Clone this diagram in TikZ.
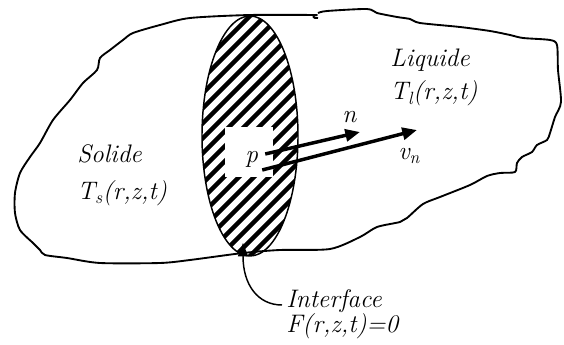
\documentclass[tikz,border=0pt]{standalone}
\usepackage{fontspec}
\usetikzlibrary{arrows.meta,shapes.geometric}

\begin{document}
\begin{tikzpicture}[x=0.75pt, y=-0.75pt,
  lbl/.style={font=\fontsize{19}{23}\selectfont\itshape, anchor=base west, inner sep=0pt},
  outline/.style={line width=1.4pt, line join=round},
  stripe/.style={line width=3.4pt},
  front/.style={ellipse, draw, line width=1.1pt, inner sep=0pt,
                minimum width=72pt, minimum height=180pt,
                path picture={\foreach \k in {-13,...,13}
                  \draw[stripe] ([shift={(15*\k-150,150)}]path picture bounding box.center) -- ++(300,-300);}},
  vec/.style={line width=2.6pt, -{Triangle[length=11pt, width=9pt]}},
  pointer/.style={line width=1.1pt, -{Triangle[length=10pt, width=7.5pt]}}
]
  \useasboundingbox (0,0) rectangle (564,345);
  \draw[outline] plot[smooth, tension=0.45] coordinates {
    (318,13) (327,11) (367,9) (377,13) (397,17) (410,19) (420,23) (460,27)
    (490,31) (510,35) (523,38) (550,40) (557,45) (558,70) (561,102) (555,117)
    (550,133) (547,140) (537,145) (532,152) (522,157) (517,163) (515,172)
    (500,173) (487,176) (470,185) (440,197) (423,204) (407,218) (400,222)
    (377,227) (360,237) (330,249) (280,250) (243,253) (190,260) (160,263)
    (100,263) (67,258) (45,255) (40,250) (33,243) (20,230) (15,213) (15,193)
    (20,173) (30,157) (40,143) (53,120) (70,100) (83,83) (97,70) (100,58)
    (110,50) (123,40) (133,33) (160,25) (190,18) (250,15) (317,15)}
    .. controls (312,15) and (312,19) .. (318,18);
  \node[front] (ifs) at (250,136) {};
  \node[fill=white, minimum width=36pt, minimum height=37pt, inner sep=0pt] (pbox) at (249,152) {};
  \node[lbl] (p) at (245,163) {p};
  \node[lbl] (solide) at (77,163) {Solide};
  \node[lbl] (ts) at (77,200) {T\textsubscript{s}(r,z,t)};
  \node[lbl] (liquide) at (390,67) {Liquide};
  \node[lbl] (tl) at (390,100) {T\textsubscript{l}(r,z,t)};
  \node[lbl] (n) at (342,123) {n};
  \node[lbl] (vn) at (398,160) {v\textsubscript{n}};
  \node[lbl] (ifc) at (286,307) {Interface};
  \node[lbl] (feq) at (286,332) {F(r,z,t)=0};
  \coordinate (ntip) at (360,132);
  \coordinate (vtip) at (417,130);
  \coordinate (itip) at (243,243);
  \draw[vec] ([shift={(7,-9)}]p.base east) -- (ntip);
  \draw[vec] ([shift={(4,7)}]p.base east) -- (vtip);
  \draw[pointer] ([shift={(-4,-2)}]ifc.base west) .. controls (258,305) and (243,285) .. (itip);
\end{tikzpicture}
\end{document}
